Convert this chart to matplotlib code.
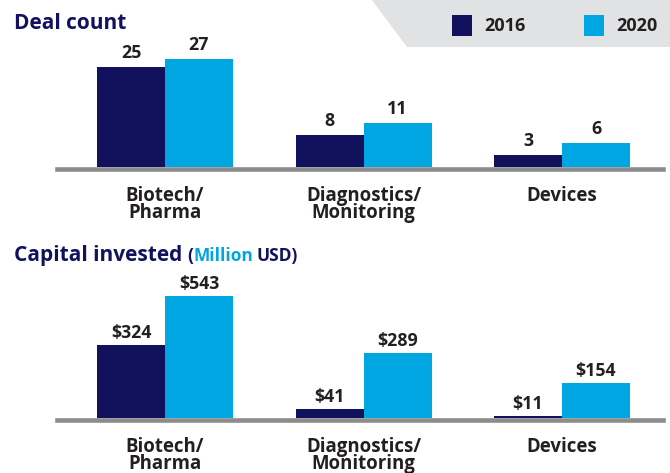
import matplotlib
matplotlib.use("Agg")
import matplotlib.pyplot as plt
from matplotlib.patches import Polygon

categories = ["Biotech/\nPharma", "Diagnostics/\nMonitoring", "Devices"]
years = ["2016", "2020"]
deal_2016 = [25, 8, 3]
deal_2020 = [27, 11, 6]
cap_2016 = [324, 41, 11]
cap_2020 = [543, 289, 154]

NAVY = "#12115e"
CYAN = "#00a6e2"
TXT = "#231f20"
GRAY = "#8c8c8c"
FONT = "Open Sans"

plt.rcParams["font.family"] = [FONT, "DejaVu Sans"]

W, H = 670, 473
fig = plt.figure(figsize=(W / 100, H / 100), dpi=100)


def fx(x):
    return x / W


def fy(y):
    return 1 - y / H


# group centers in px
x0, step, bw = 165, 198.5, 68
left_px, right_px = 57, 663
xlim = ((left_px - x0) / step, (right_px - x0) / step)
wunit = bw / step


def make_ax(top_px, base_px, ymax):
    ax = fig.add_axes([fx(left_px), fy(base_px), (right_px - left_px) / W,
                       (base_px - top_px) / H])
    ax.set_xlim(*xlim)
    ax.set_ylim(0, ymax)
    for s in ["top", "left", "right"]:
        ax.spines[s].set_visible(False)
    ax.spines["bottom"].set_color(GRAY)
    ax.spines["bottom"].set_linewidth(3.3)
    ax.spines["bottom"].set_position(("outward", 1.6))
    ax.set_yticks([])
    ax.set_xticks([])
    ax.patch.set_alpha(0)
    return ax


def draw(ax, v1, v2, fmt, gap):
    xs = list(range(len(categories)))
    b1 = ax.bar([x - wunit / 2 for x in xs], v1, width=wunit, color=NAVY, clip_on=False)
    b2 = ax.bar([x + wunit / 2 for x in xs], v2, width=wunit, color=CYAN, clip_on=False)
    for bars, vals in ((b1, v1), (b2, v2)):
        for r, v in zip(bars, vals):
            ax.annotate(fmt.format(v), (r.get_x() + r.get_width() / 2, v),
                        xytext=(0, gap), textcoords="offset pixels",
                        ha="center", va="baseline", fontsize=12.8,
                        fontweight="bold", color=TXT)
    for x, c in zip(xs, categories):
        ax.annotate(c, (x, 0), xytext=(0, -19), textcoords="offset pixels",
                    ha="center", va="top", fontsize=13.4, fontweight="bold",
                    color=TXT, linespacing=0.78, annotation_clip=False)


ax1 = make_ax(40, 167, (167 - 40) / 4.0)
draw(ax1, deal_2016, deal_2020, "{}", 9)

k = 122 / 543
ax2 = make_ax(280, 418, (418 - 280) / k)
draw(ax2, cap_2016, cap_2020, "${}", 7)

# legend background
poly = Polygon([(fx(372), fy(0)), (fx(670), fy(0)), (fx(670), fy(47)), (fx(407), fy(47))],
               closed=True, transform=fig.transFigure, facecolor="#e1e2e4",
               edgecolor="none", zorder=0)
fig.patches.append(poly)
for (sx, tx), col, yr in (((452, 484), NAVY, years[0]), ((584, 616), CYAN, years[1])):
    fig.patches.append(plt.Rectangle((fx(sx), fy(36)), 20 / W, 21 / H,
                                     transform=fig.transFigure, facecolor=col,
                                     edgecolor="none"))
    fig.text(fx(tx), fy(31), yr, ha="left", va="baseline", fontsize=13,
             fontweight="bold", color=TXT)

# titles
fig.text(fx(14), fy(29), "Deal count", ha="left", va="baseline", fontsize=15,
         fontweight="bold", color=NAVY)
t = fig.text(fx(14), fy(261), "Capital invested", ha="left", va="baseline",
             fontsize=15, fontweight="bold", color=NAVY)
fig.canvas.draw()
r = fig.canvas.get_renderer()
xpos = t.get_window_extent(r).x1 + 5
for s, col, gap in (("(", NAVY, 0), ("Million", CYAN, 4), ("USD)", NAVY, 0)):
    tt = fig.text(xpos / W, fy(261), s, ha="left", va="baseline", fontsize=12.5,
                  fontweight="bold", color=col)
    xpos = tt.get_window_extent(r).x1 + gap

fig.savefig("out.png", dpi=100)
